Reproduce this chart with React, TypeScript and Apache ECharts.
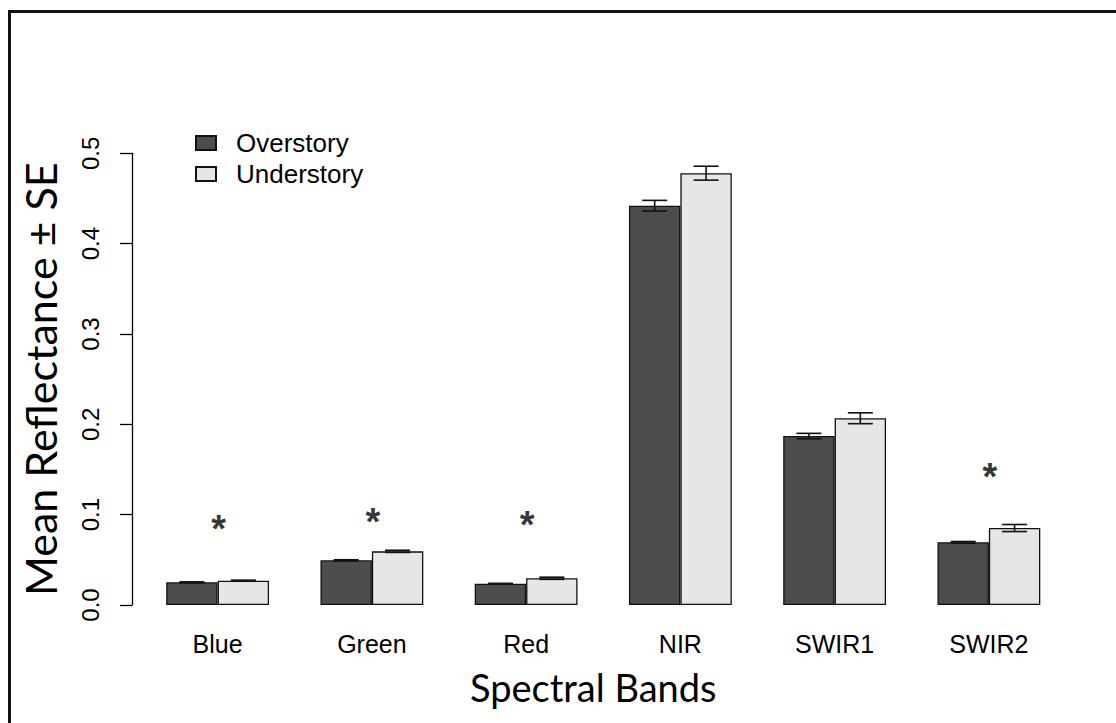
import React, { useEffect, useRef } from "react";
import * as echarts from "echarts";

const bands = ["Blue", "Green", "Red", "NIR", "SWIR1", "SWIR2"];
const overstory = [0.0251, 0.0495, 0.0236, 0.442, 0.187, 0.0694];
const understory = [0.0269, 0.0594, 0.0296, 0.478, 0.2067, 0.0852];
const overstorySE = [0.0005, 0.0006, 0.0004, 0.0059, 0.003, 0.0009];
const understorySE = [0.0006, 0.0012, 0.0012, 0.0077, 0.006, 0.0039];
// significance markers: [band index, height]
const stars: [number, number][] = [
  [0, 0.092],
  [1, 0.0996],
  [2, 0.096],
  [5, 0.149],
];
const yTicks = { min: 0, max: 0.5, interval: 0.1 };

const TICK_FONT = "'Liberation Sans', Arial, sans-serif";
const TITLE_FONT = "Lato, 'Open Sans', sans-serif";

function errorRenderer(sign: number) {
  return (params: any, api: any) => {
    const idx = api.value(0);
    const v = api.value(1);
    const se = api.value(2);
    const band = api.size([1, 0])[0];
    const cx = api.coord([idx, v])[0] + (sign * band) / 6;
    const top = api.coord([idx, v + se])[1];
    const bot = api.coord([idx, v - se])[1];
    const hw = 12.5;
    const style = { stroke: "#111", lineWidth: 1.6 };
    return {
      type: "group",
      children: [
        { type: "line", shape: { x1: cx, y1: top, x2: cx, y2: bot }, style },
        { type: "line", shape: { x1: cx - hw, y1: top, x2: cx + hw, y2: top }, style },
        { type: "line", shape: { x1: cx - hw, y1: bot, x2: cx + hw, y2: bot }, style },
      ],
    };
  };
}

export default function App() {
  const ref = useRef<HTMLDivElement>(null);
  useEffect(() => {
    if (!ref.current) return;
    const chart = echarts.init(ref.current, undefined, { renderer: "svg" });
    chart.setOption({
      animation: false,
      backgroundColor: "#fff",
      grid: { left: 140.5, right: 50, top: 153.3, bottom: 118 },
      legend: {
        orient: "vertical",
        left: 190,
        top: 125,
        itemWidth: 20,
        itemHeight: 14,
        itemGap: 5,
        icon: "rect",
        textStyle: {
          fontSize: 26,
          fontFamily: TICK_FONT,
          color: "#000",
          padding: [0, 0, 0, 15],
        },
        data: ["Overstory", "Understory"],
      },
      xAxis: {
        type: "category",
        data: bands,
        axisLine: { show: false },
        axisTick: { show: false },
        axisLabel: {
          fontSize: 25,
          fontFamily: TICK_FONT,
          color: "#000",
          margin: 26,
        },
        name: "Spectral Bands",
        nameLocation: "middle",
        nameGap: 63,
        nameTextStyle: {
          fontSize: 38,
          fontFamily: TITLE_FONT,
          color: "#000",
          padding: [0, 20, 0, 0],
        },
      },
      yAxis: {
        type: "value",
        min: yTicks.min,
        max: yTicks.max,
        interval: yTicks.interval,
        offset: 8.5,
        splitLine: { show: false },
        axisLine: { show: true, lineStyle: { color: "#000", width: 1.3 } },
        axisTick: { show: true, length: 12, lineStyle: { color: "#000", width: 1.3 } },
        axisLabel: {
          rotate: 90,
          fontSize: 24,
          fontFamily: TICK_FONT,
          color: "#000",
          margin: 30,
          formatter: (v: number) => v.toFixed(1),
        },
        name: "Mean Reflectance ± SE",
        nameLocation: "middle",
        nameRotate: 90,
        nameGap: 70,
        nameTextStyle: { fontSize: 43, fontFamily: TITLE_FONT, color: "#000" },
      },
      series: [
        {
          name: "Overstory",
          type: "bar",
          data: overstory,
          barGap: "0%",
          barCategoryGap: "33.333%",
          itemStyle: { color: "#4d4d4d", borderColor: "#111", borderWidth: 1.3 },
        },
        {
          name: "Understory",
          type: "bar",
          data: understory,
          itemStyle: { color: "#e6e6e6", borderColor: "#111", borderWidth: 1.3 },
        },
        {
          type: "custom",
          renderItem: errorRenderer(-1),
          data: overstory.map((v, i) => [i, v, overstorySE[i]]),
          encode: { x: 0, y: 1 },
          z: 5,
        },
        {
          type: "custom",
          renderItem: errorRenderer(1),
          data: understory.map((v, i) => [i, v, understorySE[i]]),
          encode: { x: 0, y: 1 },
          z: 5,
        },
        {
          type: "scatter",
          symbolSize: 0,
          data: stars,
          label: {
            show: true,
            position: "inside",
            formatter: "*",
            fontSize: 38,
            fontWeight: "bold",
            fontFamily: TICK_FONT,
            color: "#000",
            offset: [1, 7],
          },
          z: 6,
        },
      ],
      graphic: [
        { type: "line", shape: { x1: 8, y1: 11.5, x2: 1116, y2: 11.5 }, style: { stroke: "#111", lineWidth: 3 } },
        { type: "line", shape: { x1: 9.5, y1: 10, x2: 9.5, y2: 723 }, style: { stroke: "#111", lineWidth: 3 } },
      ],
    });
    return () => chart.dispose();
  }, []);
  return (
    <div
      ref={ref}
      style={{ position: "fixed", left: 0, top: 0, width: 1116, height: 723, background: "#fff" }}
    />
  );
}
